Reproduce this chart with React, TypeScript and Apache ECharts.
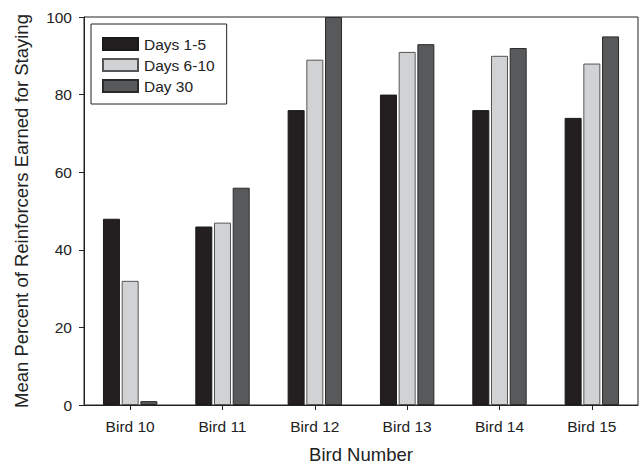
import React, { useEffect, useRef } from "react";
import * as echarts from "echarts";

const categories = ["Bird 10", "Bird 11", "Bird 12", "Bird 13", "Bird 14", "Bird 15"];
const seriesNames = ["Days 1-5", "Days 6-10", "Day 30"];
const days1to5 = [48, 46, 76, 80, 76, 74];
const days6to10 = [32, 47, 89, 91, 90, 88];
const day30 = [1, 56, 100, 93, 92, 95];
const yTicks = { min: 0, max: 100, interval: 20 };

const FONT = "Liberation Sans, Arial, sans-serif";

export default function App() {
  const ref = useRef<HTMLDivElement>(null);
  useEffect(() => {
    if (!ref.current) return;
    const chart = echarts.init(ref.current, undefined, { renderer: "svg" });
    const fills = ["#231f20", "#d1d2d4", "#58595b"];
    const borders = ["#1a1a1a", "#555555", "#2a2a2a"];
    const values = [days1to5, days6to10, day30];
    chart.setOption({
      animation: false,
      backgroundColor: "#ffffff",
      textStyle: { fontFamily: FONT },
      grid: {
        left: 84,
        right: 2,
        top: 17,
        bottom: 65,
        show: true,
        borderColor: "#222",
        borderWidth: 1,
        backgroundColor: "transparent",
      },
      legend: {
        orient: "vertical",
        left: 91,
        top: 24,
        itemWidth: 35,
        itemHeight: 12,
        itemGap: 5,
        padding: [12, 12, 10, 11],
        borderColor: "#222",
        borderWidth: 1,
        backgroundColor: "#fff",
        textStyle: { fontSize: 15.5, color: "#222", fontFamily: FONT, padding: [0, 0, 0, 1] },
        data: seriesNames,
        icon: "rect",
      },
      xAxis: {
        type: "category",
        data: categories,
        name: "Bird Number",
        nameLocation: "middle",
        nameGap: 40,
        nameTextStyle: { fontSize: 18.5, color: "#222", fontFamily: FONT },
        axisLine: { show: true, lineStyle: { color: "#222", width: 1 } },
        axisTick: { show: true, alignWithLabel: true, length: 5, lineStyle: { color: "#222" } },
        axisLabel: { fontSize: 15.5, color: "#222", margin: 13, fontFamily: FONT },
        splitLine: { show: false },
      },
      yAxis: {
        type: "value",
        min: yTicks.min,
        max: yTicks.max,
        interval: yTicks.interval,
        name: "Mean Percent of Reinforcers Earned for Staying",
        nameLocation: "middle",
        nameGap: 53,
        nameTextStyle: { fontSize: 18.5, color: "#222", fontFamily: FONT },
        axisLine: { show: true, lineStyle: { color: "#222", width: 1 } },
        axisTick: { show: true, length: 5, lineStyle: { color: "#222" } },
        axisLabel: { fontSize: 15.5, color: "#222", margin: 12, fontFamily: FONT },
        splitLine: { show: false },
      },
      series: seriesNames.map((name, i) => ({
        name,
        type: "bar",
        data: values[i],
        barWidth: 17,
        barGap: "10%",
        itemStyle: { color: fills[i], borderColor: borders[i], borderWidth: 1 },
      })),
    });
    return () => chart.dispose();
  }, []);
  return (
    <div
      ref={ref}
      style={{ position: "fixed", left: 0, top: 0, width: 640, height: 470, background: "#fff" }}
    />
  );
}
